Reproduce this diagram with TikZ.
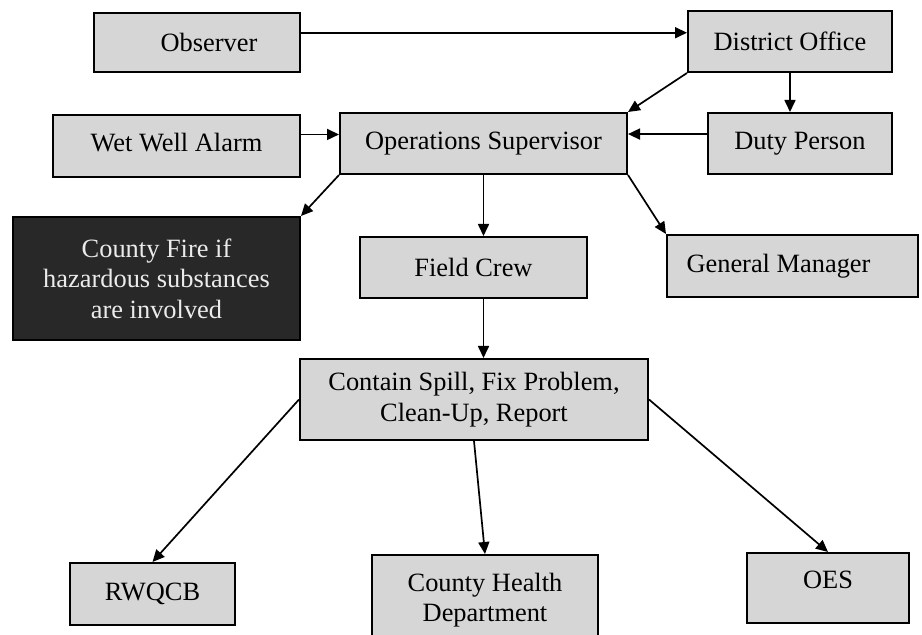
\documentclass[tikz,border=0pt]{standalone}
\usepackage{fontspec}
\setmainfont{Liberation Serif}
\usetikzlibrary{arrows.meta,calc}
\definecolor{boxgray}{RGB}{214,214,214}
\definecolor{boxdark}{RGB}{40,40,40}
\definecolor{textlight}{RGB}{235,235,235}
\tikzset{
  box/.style={draw=black, line width=1pt, fill=boxgray, inner sep=0pt, align=center,
    font=\fontsize{13.2pt}{15.3pt}\selectfont},
  darkbox/.style={box, fill=boxdark, text=textlight},
  arr/.style={line width=0.85pt, -{Triangle[length=6pt,width=5.5pt]}}
}
\newcommand{\upby}[2]{\raisebox{0pt}[\height][\dimexpr\depth+#1\relax]{#2}}
\begin{document}
\begin{tikzpicture}[x=0.5pt,y=-0.5pt]
\useasboundingbox (0,0) rectangle (922,635);
\clip (0,0) rectangle (922,635);
\fill[white] (0,0) rectangle (922,635);
\node[box, minimum width=103pt, minimum height=29.5pt] (obs) at (197,42.5) {\hspace*{12pt}Observer};
\node[box, minimum width=102pt, minimum height=30.5pt] (do) at (790,41.5) {District Office};
\node[box, minimum width=123.5pt, minimum height=31pt] (wwa) at (176.5,146) {\upby{3pt}{Wet Well Alarm}};
\node[box, minimum width=143.5pt, minimum height=30.5pt] (ops) at (483.5,143.5) {Operations Supervisor};
\node[box, minimum width=92pt, minimum height=30.5pt] (duty) at (800,143.5) {Duty Person};
\node[darkbox, minimum width=143.5pt, minimum height=61.5pt] (cf) at (156.5,278.5) {County Fire if\\hazardous substances\\are involved};
\node[box, minimum width=113.5pt, minimum height=30.5pt] (fc) at (473.5,267.5) {Field Crew};
\node[box, minimum width=125.5pt, minimum height=31pt] (gm) at (792.5,266) {General Manager\hspace*{14pt}};
\node[box, minimum width=174pt, minimum height=40.5pt] (cs) at (474,399.5) {Contain Spill, Fix Problem,\\Clean-Up, Report};
\node[box, minimum width=82.5pt, minimum height=31pt] (rw) at (152.5,594) {RWQCB};
\node[box, minimum width=113pt, minimum height=45pt] (chd) at (485,600) {County Health\\Department};
\node[box, minimum width=81pt, minimum height=35pt] (oes) at (828,588) {\upby{8pt}{OES}};
% connectors
\coordinate (oe) at ($(obs.north east)!0.34!(obs.south east)$);
\draw[arr] (oe) -- (oe -| do.west);
\draw[arr] (do.south west) -- (ops.north east);
\draw[arr] (do.south) -- (do.south |- duty.north);
\coordinate (dw) at ($(duty.north west)!0.35!(duty.south west)$);
\draw[arr] (dw) -- (dw -| ops.east);
\coordinate (ww) at ($(wwa.north east)!0.32!(wwa.south east)$);
\draw[arr] (ww) -- (ww -| ops.west);
\draw[arr] (ops.south west) -- (cf.north east);
\draw[arr] (ops.south) -- (ops.south |- fc.north);
\draw[arr] (ops.south east) -- (gm.north west);
\draw[arr] (ops.south |- fc.south) -- (ops.south |- cs.north);
\draw[arr] (cs.west) -- (rw.north);
\draw[arr] (cs.south) -- (chd.north);
\draw[arr] (cs.east) -- (oes.north);
\end{tikzpicture}
\end{document}
